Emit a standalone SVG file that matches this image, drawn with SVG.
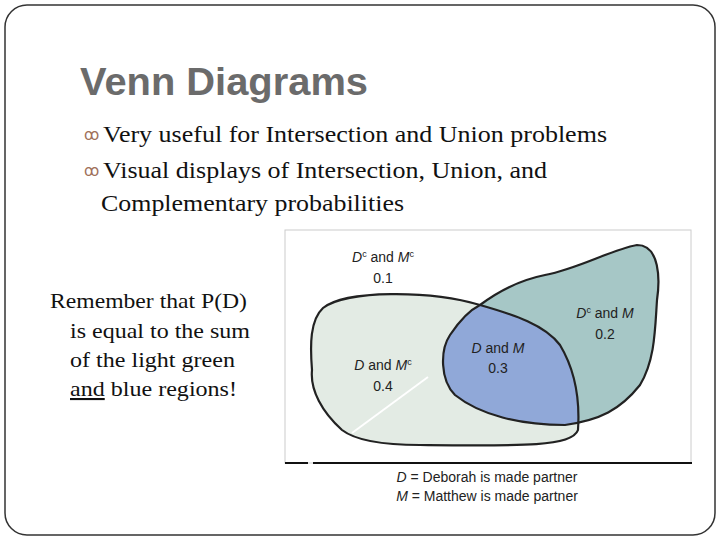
<svg xmlns="http://www.w3.org/2000/svg" width="720" height="540" viewBox="0 0 720 540">
<style>
.b{font-family:"Liberation Serif",serif;font-size:23px;fill:#111}
.r{font-family:"Liberation Serif",serif;font-size:21px;fill:#111}
.bu{font-family:"DejaVu Sans",sans-serif;font-size:15px;fill:#a0705a}
.l{font-family:"Liberation Sans",Arial,sans-serif;font-size:14px;fill:#222;text-anchor:middle}
.o{stroke:#222;stroke-width:2.2;fill:none}
</style>
<defs>
<path id="D" d="M480,305 C515,315 545,325 560,345 C575,370 580,400 578,430 C572,447 520,446 420,445 C380,445 355,440 342,430 C322,412 310,390 312,370 C310,345 310,320 323,308 C345,290 430,290 480,305 Z"/>
<path id="M" d="M480,305 C500,290 520,280 545,275 C580,268 610,250 637,245 C660,245 660,280 657,300 C655,330 655,360 640,385 C620,410 600,420 565,425 C520,425 480,415 455,395 C440,380 440,350 450,335 C460,320 470,310 480,305 Z"/>
<clipPath id="cD"><use href="#D"/></clipPath>
</defs>
<rect x="5" y="5" width="710" height="530" rx="22" fill="#fff" stroke="#333" stroke-width="1.5"/>
<text x="80" y="95" font-family="Liberation Sans,Arial,sans-serif" font-size="38" font-weight="bold" fill="#6b6b6b" textLength="288" lengthAdjust="spacingAndGlyphs">Venn Diagrams</text>
<g id="bullets">
<text class="bu" x="84" y="140">ꝏ</text><text class="b" x="103" y="142" textLength="504" lengthAdjust="spacingAndGlyphs">Very useful for Intersection and Union problems</text>
<text class="bu" x="84" y="176">ꝏ</text><text class="b" x="103" y="178" textLength="444" lengthAdjust="spacingAndGlyphs">Visual displays of Intersection, Union, and</text>
<text class="b" x="101" y="211" textLength="303" lengthAdjust="spacingAndGlyphs">Complementary probabilities</text>
</g>
<g id="note">
<text class="r" x="50" y="308" textLength="197" lengthAdjust="spacingAndGlyphs">Remember that P(D)</text>
<text class="r" x="70" y="338" textLength="180" lengthAdjust="spacingAndGlyphs">is equal to the sum</text>
<text class="r" x="70" y="367" textLength="165" lengthAdjust="spacingAndGlyphs">of the light green</text>
<text class="r" x="70" y="396" textLength="167" lengthAdjust="spacingAndGlyphs"><tspan text-decoration="underline">and</tspan> blue regions!</text>
</g>
<g id="frame">
<rect x="285" y="230" width="406" height="233" fill="#fff" stroke="#ccc" stroke-width="1"/>
<line x1="285" y1="463" x2="308" y2="463" stroke="#111" stroke-width="2"/>
<line x1="313" y1="463" x2="692" y2="463" stroke="#111" stroke-width="2"/>
</g>
<g id="regionD"><use href="#D" fill="#e3ebe4"/></g>
<g id="regionM"><use href="#M" fill="#a6c7c6"/></g>
<g id="regionDM"><use href="#M" fill="#90a8d8" clip-path="url(#cD)"/></g>
<g id="connectors">
<use href="#D" class="o"/>
<use href="#M" class="o"/>
<line x1="428" y1="377" x2="352" y2="433" stroke="#fff" stroke-width="2"/>
</g>
<g id="labels" class="l">
<text x="383" y="262"><tspan font-style="italic">D</tspan><tspan font-size="9" dy="-5">c</tspan><tspan dy="5"> and </tspan><tspan font-style="italic">M</tspan><tspan font-size="9" dy="-5">c</tspan></text>
<text x="383" y="283">0.1</text>
<text x="605" y="318"><tspan font-style="italic">D</tspan><tspan font-size="9" dy="-5">c</tspan><tspan dy="5"> and </tspan><tspan font-style="italic">M</tspan></text>
<text x="605" y="339">0.2</text>
<text x="498" y="353"><tspan font-style="italic">D</tspan> and <tspan font-style="italic">M</tspan></text>
<text x="498" y="373">0.3</text>
<text x="383" y="370"><tspan font-style="italic">D</tspan> and <tspan font-style="italic">M</tspan><tspan font-size="9" dy="-5">c</tspan></text>
<text x="383" y="391">0.4</text>
<text x="487" y="482"><tspan font-style="italic">D</tspan> = Deborah is made partner</text>
<text x="487" y="501"><tspan font-style="italic">M</tspan> = Matthew is made partner</text>
</g>
</svg>
